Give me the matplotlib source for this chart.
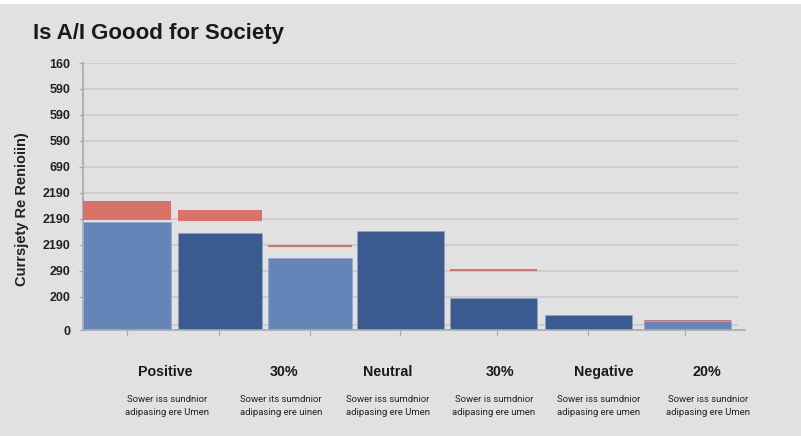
import matplotlib.pyplot as plt
from matplotlib.patches import Rectangle

plt.rcParams['font.family'] = ['Liberation Sans', 'DejaVu Sans']

## values in grid units above the baseline
blue_vals = [4.15, 3.73, 2.77, 3.81, 1.23, 0.58, 0.35]
blue_kind = ['light', 'dark', 'light', 'dark', 'dark', 'dark', 'light']
red_low = [4.23, 4.19, 3.19, None, 2.27, None, 0.35]
red_high = [4.96, 4.62, 3.27, None, 2.35, None, 0.40]

ytick_vals = [0, 1.27, 2.27, 3.27, 4.27, 5.27, 6.27, 7.27, 8.27, 9.27, 10.27]
ytick_text = ['0', '200', '290', '2190', '2190', '2190', '690', '590', '590', '590', '160']
extra_grid = [0.19]

cat_labels = ['Positive', '30%', 'Neutral', '30%', 'Negative', '20%']
sub_labels = ['Sower iss sundnior\nadipasing ere Umen',
              'Sower its sumdnior\nadipasing ere uinen',
              'Sower iss sumdnior\nadipasing ere Umen',
              'Sower is sumdnior\nadipasing ere umen',
              'Sower iss sumdnior\nadipasing ere umen',
              'Sower iss sundnior\nadipasing ere Umen']

## layout (pixels in the 801x436 picture)
bar_left = [83, 178, 268, 357, 450, 545, 644]
bar_right = [171, 262, 352, 444, 537, 632, 731]
label_x = [165, 284, 388, 500, 604, 707]
sub_x = [167, 281, 388, 494, 599, 708]

colors = {'light': '#6584b8', 'dark': '#3b5a8f'}
red = '#d9736a'
bg = '#e1e1e1'

W, H = 801, 436
fig = plt.figure(figsize=(W / 100, H / 100), dpi=100)
fig.patch.set_facecolor(bg)
fig.patches.append(Rectangle((0, 1 - 3 / H), 1, 3 / H, transform=fig.transFigure,
                             color='white', zorder=0))

ax = fig.add_axes([83 / W, (H - 330) / H, (745 - 83) / W, (330 - 63) / H])
ax.set_facecolor(bg)
ax.set_xlim(83, 745)
ax.set_ylim(0, 10.27)

# grid lines (stop a bit before the end of the baseline)
for g in ytick_vals[1:] + extra_grid:
    ax.plot([83, 737], [g, g], color='#c9c9c9', lw=1.2, zorder=1)

centers = [(l + r) / 2 for l, r in zip(bar_left, bar_right)]
widths = [r - l for l, r in zip(bar_left, bar_right)]
ax.bar(centers, blue_vals, width=widths, color=[colors[k] for k in blue_kind],
       edgecolor='#8fa6c8', linewidth=0.4, zorder=2)
for i in range(len(centers)):
    if red_low[i] is not None:
        ax.bar(centers[i], red_high[i] - red_low[i], bottom=red_low[i],
               width=widths[i], color=red, zorder=3)

ax.set_yticks(ytick_vals)
ax.set_yticklabels(ytick_text, fontsize=9, fontweight='bold', color='#222222')
ax.set_xticks([127, 219, 310, 400, 497, 588, 685])
ax.set_xticklabels([])
ax.tick_params(axis='y', length=3, pad=6, color='#aaaaaa')
ax.tick_params(axis='x', length=4, color='#aaaaaa')

for s in ['top', 'right']:
    ax.spines[s].set_visible(False)
ax.spines['left'].set_color('#aaaaaa')
ax.spines['bottom'].set_color('#aaaaaa')
ax.spines['left'].set_linewidth(1.2)
ax.spines['bottom'].set_linewidth(1.2)

fig.text(33 / W, 1 - 33 / H, 'Is A/I Goood for Society', fontsize=16,
         fontweight='bold', color='#1a1a1a', ha='left', va='center')
fig.text(22 / W, 1 - 209 / H, 'Currsjety Re Renioiin)', fontsize=10.5,
         fontweight='bold', color='#222222', rotation=90, ha='center', va='center')

for lx, t in zip(label_x, cat_labels):
    fig.text(lx / W, 1 - 372 / H, t, fontsize=10.3, fontweight='bold',
             color='#1a1a1a', ha='center', va='center')
for sx, t in zip(sub_x, sub_labels):
    fig.text(sx / W, 1 - 406 / H, t, fontsize=6.8, family='Roboto',
             color='#222222', ha='center', va='center', linespacing=1.6)

fig.savefig('out.png', dpi=100, facecolor=bg)
